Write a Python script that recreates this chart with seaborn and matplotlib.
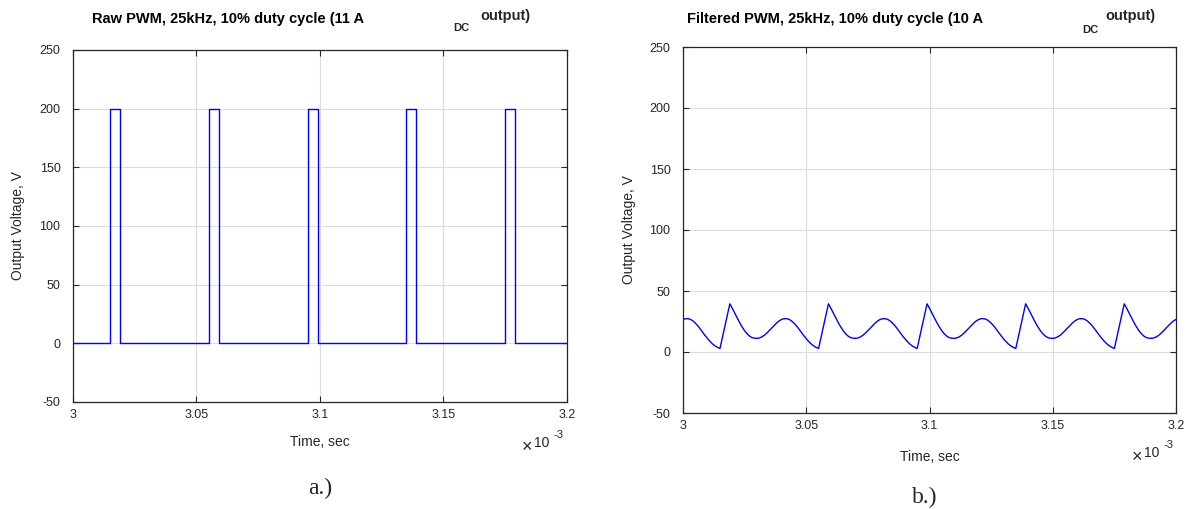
import numpy as np
import pandas as pd
import matplotlib
matplotlib.use("Agg")
import matplotlib.pyplot as plt
import seaborn as sns

# Datos: tiempo en unidades de 1e-3 s
raw_t = [3.000, 3.015, 3.019, 3.055, 3.059, 3.095, 3.099, 3.135, 3.139, 3.175, 3.179, 3.200]
raw_v = [0, 200, 0, 200, 0, 200, 0, 200, 0, 200, 0, 0]

# filtrado, una muestra por microsegundo desde 3.000 hasta 3.200
filt_v = [
    26.7, 27.3, 27.3, 26.8, 25.5, 23.7, 21.5, 18.9, 16.1, 13.4,
    10.9, 8.6, 6.6, 5.0, 3.8, 2.9, 12.1, 21.2, 30.4, 39.5,
    35.8, 31.8, 27.8, 24.0, 20.5, 17.4, 14.9, 13.0, 11.8, 11.3,
    11.2, 11.5, 12.4, 13.7, 15.5, 17.6, 19.7, 21.9, 23.8, 25.5,
    26.7, 27.3, 27.3, 26.8, 25.5, 23.7, 21.5, 18.9, 16.1, 13.4,
    10.9, 8.6, 6.6, 5.0, 3.8, 2.9, 12.1, 21.2, 30.4, 39.5,
    35.8, 31.8, 27.8, 24.0, 20.5, 17.4, 14.9, 13.0, 11.8, 11.3,
    11.2, 11.5, 12.4, 13.7, 15.5, 17.6, 19.7, 21.9, 23.8, 25.5,
    26.7, 27.3, 27.3, 26.8, 25.5, 23.7, 21.5, 18.9, 16.1, 13.4,
    10.9, 8.6, 6.6, 5.0, 3.8, 2.9, 12.1, 21.2, 30.4, 39.5,
    35.8, 31.8, 27.8, 24.0, 20.5, 17.4, 14.9, 13.0, 11.8, 11.3,
    11.2, 11.5, 12.4, 13.7, 15.5, 17.6, 19.7, 21.9, 23.8, 25.5,
    26.7, 27.3, 27.3, 26.8, 25.5, 23.7, 21.5, 18.9, 16.1, 13.4,
    10.9, 8.6, 6.6, 5.0, 3.8, 2.9, 12.1, 21.2, 30.4, 39.5,
    35.8, 31.8, 27.8, 24.0, 20.5, 17.4, 14.9, 13.0, 11.8, 11.3,
    11.2, 11.5, 12.4, 13.7, 15.5, 17.6, 19.7, 21.9, 23.8, 25.5,
    26.7, 27.3, 27.3, 26.8, 25.5, 23.7, 21.5, 18.9, 16.1, 13.4,
    10.9, 8.6, 6.6, 5.0, 3.8, 2.9, 12.1, 21.2, 30.4, 39.5,
    35.8, 31.8, 27.8, 24.0, 20.5, 17.4, 14.9, 13.0, 11.8, 11.3,
    11.2, 11.5, 12.4, 13.7, 15.5, 17.6, 19.7, 21.9, 23.8, 25.5,
    26.7,
]
filt_t = np.round(np.arange(3000, 3201) / 1000, 3)

x_ticks = [3.0, 3.05, 3.1, 3.15, 3.2]
x_tick_labels = ["3", "3.05", "3.1", "3.15", "3.2"]
y_ticks = [-50, 0, 50, 100, 150, 200, 250]

sns.set_theme(style="white")
plt.rcParams['font.family'] = ['Liberation Sans', 'DejaVu Sans']
plt.rcParams['axes.unicode_minus'] = False

W, H = 1187, 509
fig = plt.figure(figsize=(W / 100, H / 100), dpi=100)


def px(x, y):
    return x / W, 1 - y / H


gris = '#262626'


def estilo(ax, ylab_x, xlab_y):
    ax.set_xlim(3.0, 3.2)
    ax.set_ylim(-50, 250)
    ax.set_xticks(x_ticks)
    ax.set_xticklabels(x_tick_labels)
    ax.set_yticks(y_ticks)
    ax.grid(True, color='#dcdcdc', linewidth=0.8)
    ax.set_axisbelow(True)
    for s in ax.spines.values():
        s.set_visible(True)
        s.set_color(gris)
        s.set_linewidth(0.9)
    ax.tick_params(direction='in', length=4, width=0.8, color=gris,
                   labelcolor=gris, labelsize=9, top=True, right=True,
                   bottom=True, left=True)
    ax.tick_params(axis='y', pad=9)
    ax.tick_params(axis='x', pad=5)
    ax.set_xlabel('Time, sec', fontsize=10, color=gris)
    ax.set_ylabel('Output Voltage, V', fontsize=10, color=gris)
    ax.xaxis.set_label_coords(0.5, xlab_y)
    ax.yaxis.set_label_coords(ylab_x, 0.5)


# a.) PWM sin filtrar
ax1 = fig.add_axes([73 / W, 1 - 402 / H, 494 / W, 352 / H])
df_raw = pd.DataFrame({'t': raw_t, 'v': raw_v})
sns.lineplot(data=df_raw, x='t', y='v', ax=ax1, color='#0000ff', linewidth=1.0,
             drawstyle='steps-post', estimator=None)
estilo(ax1, -0.097, -0.095)

# b.) PWM filtrado
ax2 = fig.add_axes([683 / W, 1 - 413 / H, 493 / W, 366 / H])
df_filt = pd.DataFrame({'t': filt_t, 'v': filt_v})
sns.lineplot(data=df_filt, x='t', y='v', ax=ax2, color='#0000ff', linewidth=1.0,
             estimator=None)
estilo(ax2, -0.095, -0.10)

# Titulos estilo MATLAB
fig.text(*px(92, 19), 'Raw PWM, 25kHz, 10% duty cycle (11 A', fontsize=10.5,
         fontweight='bold', ha='left', va='center', color='black')
fig.text(*px(453, 28), 'DC', fontsize=8, fontweight='bold', ha='left', va='center')
fig.text(*px(480, 16), 'output)', fontsize=10.5, fontweight='bold', ha='left', va='center')

fig.text(*px(687, 19), 'Filtered PWM, 25kHz, 10% duty cycle (10 A', fontsize=10.5,
         fontweight='bold', ha='left', va='center', color='black')
fig.text(*px(1082, 30), 'DC', fontsize=8, fontweight='bold', ha='left', va='center')
fig.text(*px(1105, 16), 'output)', fontsize=10.5, fontweight='bold', ha='left', va='center')

# Multiplicador x10^-3
for xm, ym in [(527, 448), (1137, 458)]:
    fig.text(*px(xm, ym), '\u00d7', fontsize=13, ha='center', va='center', color=gris)
    fig.text(*px(xm + 7, ym - 5), '10', fontsize=10, ha='left', va='center', color=gris)
    fig.text(*px(xm + 26, ym - 13), '-3', fontsize=8, ha='left', va='center', color=gris)

# Etiquetas a.) y b.)
fig.text(*px(320, 488), 'a.)', fontsize=17, family='Liberation Serif', ha='center', va='center')
fig.text(*px(925, 497), 'b.)', fontsize=17, family='Liberation Serif', ha='center', va='center')

fig.savefig('out.png', dpi=100, facecolor='white')
